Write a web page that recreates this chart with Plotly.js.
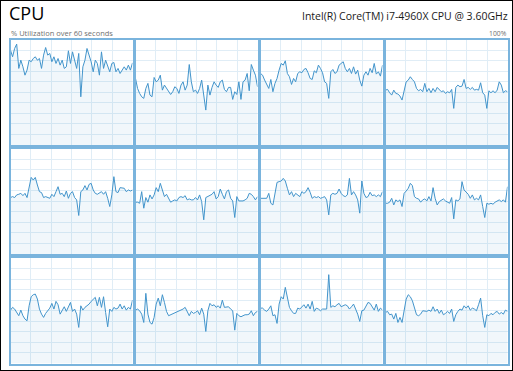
<!DOCTYPE html>
<html>
<head>
<meta charset="utf-8">
<script src="https://cdn.plot.ly/plotly-3.0.1.min.js"></script>
<style>
html,body{margin:0;padding:0;background:#fff;}
#chart{width:513px;height:371px;}
</style>
</head>
<body>
<div id="chart"></div>
<script>
// CPU utilization (%) per logical processor, one sample per second over 60 s
var cpu0 = [89.9,83.6,91.5,95.6,72.6,80.4,74.1,66.2,71,80.4,78.9,82,83.6,80.4,82,72.6,85.2,92.4,85.2,86.8,78.9,83.6,77.3,82,75.7,80.4,72.6,74.1,89.3,77.3,88.3,80.4,72.6,86.8,45.7,74.1,80.4,91.5,85.2,78.9,69.4,80.4,77.3,66.2,88.3,72.6,80.4,75.7,69.4,77.3,78.2,69.4,72.6,67.8,71,74.1,71,75.7,71,77.9];
var cpu1 = [63.1,53.6,48.9,45.7,44.2,53.6,58.4,47.3,45.7,64,59.9,61.5,66.2,52,56.8,53.6,50.5,47.9,50.5,55.2,53.6,48.9,56.8,59.9,52,56.8,76.3,59.9,50.5,52,48.9,53.6,61.5,48.9,33.1,56.8,47.3,54.6,59.9,56.8,54.6,59.9,61.5,52.7,50.5,54.6,54.6,43.2,50.5,47.9,59.9,43.2,59.9,61.5,67.8,51.4,76.3,71,66.2,55.2];
var cpu2 = [67.8,66.2,61.5,56.8,53.6,62.1,50.5,58.4,63.1,71,77.3,75.7,79.8,67.8,64.7,57.4,63.1,59.9,67.8,69.4,68.5,71.6,72.6,68.5,63.1,62.1,70.3,68.5,75.7,72.6,68.5,59.9,58.4,44.2,69.4,71.6,67.8,69.4,75.7,77.3,78.9,72.6,69.4,72.6,67.8,74.1,67.2,71,61.5,55.8,66.2,69.4,66.2,72.6,68.5,77.3,67.2,69.4,65.3,75.7];
var cpu3 = [52,52.7,49.5,47.3,52,48.9,48.3,46.4,42.6,52.7,59.9,61.5,64.7,62.1,59.9,53.6,51.4,52.7,50.5,58.4,50.5,53.6,49.5,53.6,50.5,54.6,52.7,50.5,51.4,48.9,50.5,49.5,52.7,34.7,54.6,56.8,55.2,55.8,62.1,53.6,54.6,52.7,54.6,52,52.7,52,59,49.5,47.3,34.7,51.4,49.5,51.4,49.5,52,59.9,56.8,49.5,51.4,50.5];
var cpu4 = [53.5,54.4,53.5,56,56.6,57.5,55.3,57.5,53.5,63.8,72.6,70.1,72.6,65.4,59.1,58.2,53.5,54.4,53.5,52.8,56.6,54.4,59.1,63.8,56.6,57.5,54.4,59.7,52.8,57.5,59.1,53.5,51.3,36.5,59.1,60.7,64.8,60.7,66,67,60.7,57.5,56.6,57.5,59.1,56.6,59.1,52.8,45,56,73.3,59.1,58.2,62.9,62.9,62.3,59.1,60.7,59.7,60.7];
var cpu5 = [49.1,49.1,48.1,59.1,43.4,53.5,49.1,56,52.2,56,62.9,59.1,67,60.7,54.4,56.6,53.5,49.1,50.3,51.3,50.3,53.5,54.4,53.5,55.3,51.3,52.2,51.3,51.3,53.5,51.3,56,49.7,32.4,53.5,54.4,56,56.6,59.1,52.2,54.4,61.6,56.6,52.2,59.1,60.7,52.8,50.3,34.6,54.4,50.3,50.3,50.3,51.3,52.8,57.5,56.6,54.4,51.3,54.4];
var cpu6 = [52.8,52.8,53.5,52.8,57.5,48.1,46.5,56,67.9,68.6,69.2,71.7,69.2,62.3,56,59.1,54.4,57.5,56,54.4,59.1,57.5,59.1,62.9,58.5,52.8,54.4,53.5,54.4,52.8,53.5,54.4,51.3,37.1,56,57.5,56.6,57.5,61.6,57.5,55.3,54.4,56,71.7,56,59.1,56,51.3,38.7,69.2,57.5,53.5,54.4,58.5,55.3,56,54.4,56,54.4,59.1];
var cpu7 = [48.1,48.1,49.1,52.8,46.5,51.3,49.7,51.3,45,57.5,59.7,62.3,67,64.8,54.4,52.8,52.2,49.1,51.3,52.2,50.3,54.4,50.3,62.9,52.8,46.5,49.7,51.3,52.2,50.3,49.1,48.1,53.5,33.3,51.3,50.3,52.2,68.6,60.7,59.1,56.6,52.8,56,51.3,52.8,51.3,56,45,34.6,48.1,47.2,48.1,47.2,49.1,50.3,51.3,49.7,51.3,49.1,63.8];
var cpu8 = [50.6,53.2,51.6,48.4,45.3,50.6,45.3,42.1,40.5,54.7,63.3,65.2,65.8,61.1,51.6,46.8,43.7,47.5,50,52.5,57,51.6,58.9,55.7,46.8,50,53.8,49.4,53.2,57.9,49.4,51.6,46.8,34.2,54.7,50.6,53.2,54.7,56.3,58.9,61.1,62.7,54.7,62.7,53.2,63.3,48.4,34.8,51.6,49.4,53.2,51.6,52.5,56.3,51.6,54.7,50.6,53.2,51.6,60.1];
var cpu9 = [50.6,51.6,50,46.8,38.9,66.5,46.8,38.9,37.3,43.7,56.3,62,54.7,65.2,57.9,49.4,45.3,46.2,47.5,48.4,49.4,50,50.6,51.6,53.2,48.4,45.3,49.4,47.5,48.4,50,46.2,52.5,46.8,30.4,50,57,54.7,55.7,53.2,54.7,52.5,60.1,53.2,53.8,53.8,51.6,50,31.6,47.5,45.3,44.3,45.3,46.2,46.2,46.8,50,45.3,48.4,49.4];
var cpu10 = [52.5,52.5,50.6,49.4,51.6,54.7,45.3,46.2,38,56.3,63.3,61.1,72.2,62.7,53.2,50,47.5,47.5,52.5,51.6,53.2,55.7,52.5,56.3,51.6,58.9,49.4,52.5,51.6,50,51.6,51.6,51.6,84.2,53.2,54.7,53.8,55.7,57,53.8,54.7,55.7,54.7,51.6,53.8,56.3,51.6,46.8,39.9,50,50.6,53.8,57.9,57,53.2,50.6,56.3,49.4,52.5,50.6];
var cpu11 = [48.4,49.4,46.2,46.8,42.1,47.5,38.9,43.7,38.9,50,61.1,65.2,63.3,59.5,51.6,46.2,45.3,46.8,50,49.4,49.4,50.6,49.4,53.8,49.4,51.6,47.5,50.6,46.2,47.5,49.4,47.5,51.6,39.9,46.2,49.4,51.6,50.6,54.7,52.5,54.7,50.6,52.5,51.6,50,55.7,62,45.3,34.2,46.2,45.3,47.5,46.2,48.4,49.4,46.8,48.4,46.8,50.6,49.4];

var series = [cpu0,cpu1,cpu2,cpu3,cpu4,cpu5,cpu6,cpu7,cpu8,cpu9,cpu10,cpu11];
var titleText = "CPU";
var subtitleText = "% Utilization over 60 seconds";
var modelText = "Intel(R) Core(TM) i7-4960X CPU @ 3.60GHz";
var maxText = "100%";

var W = 513, H = 371;
var colLeft = [10.5, 135.5, 260.5, 385.5];
var panelW = 122;
var rowTop = [39.5, 148.5, 258];
var panelH = 105.5;

var lineColor = "rgb(66,148,203)";
var fillColor = "rgba(17,125,187,0.06)";
var gridColor = "rgb(224,237,246)";
var borderColor = "rgb(122,180,221)";

var traces = [];
var layout = {
  width: W, height: H,
  margin: {l:0, r:0, t:0, b:0, pad:0},
  paper_bgcolor: "#fff",
  plot_bgcolor: "#fff",
  showlegend: false,
  font: {family: "Open Sans, sans-serif"},
  annotations: [],
  shapes: [{type:"rect", xref:"paper", yref:"paper", x0:0, x1:1, y0:0, y1:1,
            line:{color:"#000", width:2}, fillcolor:"rgba(0,0,0,0)", layer:"above"}]
};

series.forEach(function(vals, i){
  var r = Math.floor(i/4), c = i%4;
  var n = i+1;
  var xs = vals.map(function(_, k){ return k; });
  traces.push({
    x: xs, y: vals, type: "scatter", mode: "lines",
    line: {color: lineColor, width: 1},
    fill: "tozeroy", fillcolor: fillColor,
    xaxis: "x"+n, yaxis: "y"+n, hoverinfo: "skip"
  });
  var x0 = colLeft[c]/W, x1 = (colLeft[c]+panelW)/W;
  var yTop = 1 - rowTop[r]/H, yBot = 1 - (rowTop[r]+panelH)/H;
  var xa = {
    domain: [x0, x1], range: [0, vals.length-1], anchor: "y"+n,
    showticklabels: false, ticks: "", zeroline: false,
    showgrid: true, gridcolor: gridColor, gridwidth: 1,
    tick0: 0, dtick: (vals.length-1)/6,
    showline: true, mirror: true, linecolor: borderColor, linewidth: 2
  };
  var ya = {
    domain: [yBot, yTop], range: [0, 100], anchor: "x"+n,
    showticklabels: false, ticks: "", zeroline: false,
    showgrid: true, gridcolor: gridColor, gridwidth: 1,
    tick0: 0, dtick: 10,
    showline: true, mirror: true, linecolor: borderColor, linewidth: 2
  };
  layout["xaxis"+(n===1?"":n)] = xa;
  layout["yaxis"+(n===1?"":n)] = ya;
});

layout.annotations.push({
  text: titleText, xref:"paper", yref:"paper", x: 7/W, y: 1-13/H,
  xanchor:"left", yanchor:"middle", showarrow:false,
  font:{family:"Open Sans, sans-serif", size:18, color:"#000"}
});
layout.annotations.push({
  text: subtitleText, xref:"paper", yref:"paper", x: 9/W, y: 1-33/H,
  xanchor:"left", yanchor:"middle", showarrow:false,
  font:{family:"Open Sans, sans-serif", size:7.5, color:"#707070"}
});
layout.annotations.push({
  text: modelText, xref:"paper", yref:"paper", x: 510/W, y: 1-16/H,
  xanchor:"right", yanchor:"middle", showarrow:false,
  font:{family:"Open Sans, sans-serif", size:10.5, color:"#1a1a1a"}
});
layout.annotations.push({
  text: maxText, xref:"paper", yref:"paper", x: 509/W, y: 1-33/H,
  xanchor:"right", yanchor:"middle", showarrow:false,
  font:{family:"Open Sans, sans-serif", size:6.8, color:"#707070"}
});

Plotly.newPlot("chart", traces, layout, {staticPlot:true, displayModeBar:false});
</script>
</body>
</html>
